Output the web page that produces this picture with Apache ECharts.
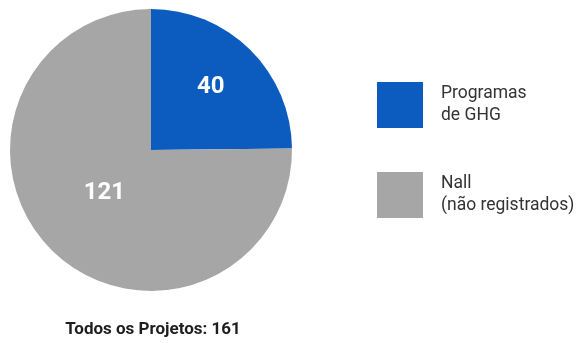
<!DOCTYPE html>
<html>
<head>
<meta charset="utf-8">
<script src="https://cdn.jsdelivr.net/npm/echarts@6/dist/echarts.min.js"></script>
<style>
  html, body { margin: 0; padding: 0; background: #fff; }
  #chart { width: 579px; height: 343px; }
</style>
</head>
<body>
<div id="chart"></div>
<script>
// Project counts by registration type
const categories = ['Programas\nde GHG', 'Nall\n(não registrados)'];
const values = [40, 121];
const colors = ['#0b5cbe', '#a6a6a6'];
const labelOffsets = [[8, -11], [5, -9]];
const totalLabel = 'Todos os Projetos: ';

const total = values.reduce((a, b) => a + b, 0);
const FONT = 'Roboto, "Noto Sans", sans-serif';

const chart = echarts.init(document.getElementById('chart'));
chart.setOption({
  animation: false,
  backgroundColor: '#ffffff',
  title: {
    text: totalLabel + total,
    left: 153,
    textAlign: 'center',
    top: 321,
    padding: 0,
    textStyle: { fontFamily: FONT, fontWeight: 'bold', fontSize: 17, color: '#1e1e1e' }
  },
  legend: {
    orient: 'vertical',
    left: 377,
    top: 82,
    padding: 0,
    itemWidth: 46,
    itemHeight: 46,
    itemGap: 44,
    icon: 'rect',
    selectedMode: false,
    data: categories,
    textStyle: {
      fontFamily: FONT,
      fontSize: 17.5,
      lineHeight: 22,
      color: '#333333',
      padding: [0, 0, 0, 13]
    }
  },
  series: [{
    type: 'pie',
    center: [151, 150],
    radius: 141,
    startAngle: 90,
    clockwise: true,
    silent: true,
    labelLine: { show: false },
    label: {
      position: 'inside',
      fontFamily: FONT,
      fontWeight: 'bold',
      fontSize: 24,
      color: '#ffffff',
      formatter: '{c}'
    },
    data: categories.map((name, i) => ({
      name,
      value: values[i],
      itemStyle: { color: colors[i] },
      label: { offset: labelOffsets[i] }
    }))
  }]
});
</script>
</body>
</html>
